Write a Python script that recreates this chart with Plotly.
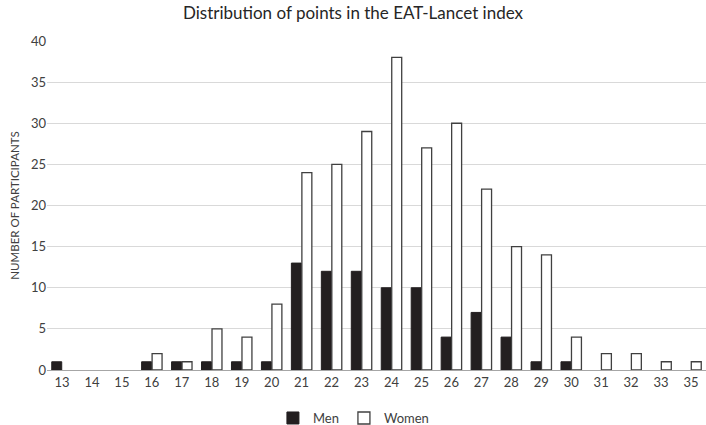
import plotly.graph_objects as go

categories = ["13","14","15","16","17","18","19","20","21","22","23","24","25","26","27","28","29","30","31","32","33","35"]
men = [1,0,0,1,1,1,1,1,13,12,12,10,10,4,7,4,1,1,0,0,0,0]
women = [0,0,0,2,1,5,4,8,24,25,29,38,27,30,22,15,14,4,2,2,1,1]

font_family = "Lato, Open Sans, sans-serif"

# zero counts are drawn as no bar at all
men_y = [v if v else None for v in men]
women_y = [v if v else None for v in women]

fig = go.Figure()
fig.add_trace(go.Bar(x=categories, y=men_y, name="Men",
                     marker=dict(color="#231f20", line=dict(color="#231f20", width=1))))
fig.add_trace(go.Bar(x=categories, y=women_y, name="Women",
                     marker=dict(color="white", line=dict(color="#404040", width=1.3))))

fig.update_layout(
    width=706, height=425,
    margin=dict(l=47, r=0, t=41, b=55, autoexpand=False),
    paper_bgcolor="white", plot_bgcolor="white",
    font=dict(family=font_family, size=13, color="#404040"),
    title=dict(text="Distribution of points in the EAT-Lancet index",
               x=0.5, xanchor="center", y=0.97, yanchor="middle",
               font=dict(size=17, color="#262626", family=font_family)),
    barmode="group", bargap=0.3, bargroupgap=0.05,
    showlegend=True,
    legend=dict(orientation="h", x=0.465, xanchor="center", y=-0.146, yanchor="middle",
                font=dict(size=13, color="#404040"), itemwidth=30,
                traceorder="normal"),
    xaxis=dict(type="category", showgrid=False, ticks="", showline=True, automargin=False,
               linecolor="#a6a6a6", linewidth=1, tickfont=dict(size=13, color="#404040")),
    yaxis=dict(range=[0,40], dtick=5, showgrid=True, gridcolor="#d9d9d9", gridwidth=1,
               zeroline=False, ticks="", automargin=False, tickfont=dict(size=13, color="#404040"),
               title=dict(text="NUMBER OF PARTICIPANTS", font=dict(size=11.5, color="#404040"), standoff=8)),
)

fig.write_html("out.html", config={"displayModeBar": False},
               post_script="document.body.style.margin='0';")
